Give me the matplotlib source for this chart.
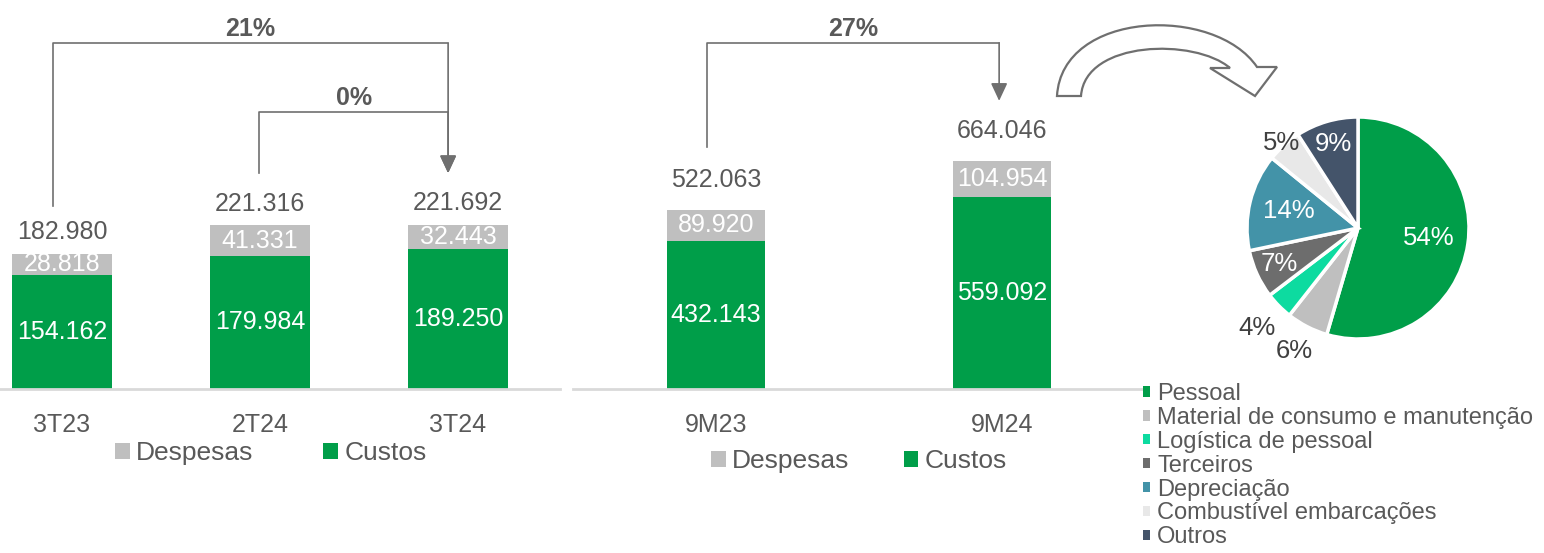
import numpy as np
import matplotlib.pyplot as plt
from matplotlib.path import Path
from matplotlib.patches import PathPatch, Patch

plt.rcParams["font.family"] = ["Liberation Sans", "DejaVu Sans"]

# quarterly (R$ mil)
tri_labels = ["3T23", "2T24", "3T24"]
tri_custos = [154.162, 179.984, 189.250]
tri_despesas = [28.818, 41.331, 32.443]
tri_total = [182.980, 221.316, 221.692]
tri_var = ["21%", "0%"]

# accumulated 9 months
acc_labels = ["9M23", "9M24"]
acc_custos = [432.143, 559.092]
acc_despesas = [89.920, 104.954]
acc_total = [522.063, 664.046]
acc_var = ["27%"]

# breakdown 9M24
pie_labels = [
    "Pessoal",
    "Material de consumo e manutenção",
    "Logística de pessoal",
    "Terceiros",
    "Depreciação",
    "Combustível embarcações",
    "Outros",
]
pie_values = [54, 6, 4, 7, 14, 5, 9]
pie_colors = ["#009E49", "#BFBFBF", "#0DDBA0", "#6D6D6D", "#4393A8", "#E8E8E8", "#44546A"]

GREEN = "#009E49"
GRAY = "#BFBFBF"
TXT = "#595959"
LINE = "#6F6F6F"
FS = 18

W, H = 1544, 553
fig = plt.figure(figsize=(W / 100, H / 100), dpi=100)


def px_axes(x0, y0, x1, y1):
    return fig.add_axes([x0 / W, 1 - y1 / H, (x1 - x0) / W, (y1 - y0) / H])


# overlay in pixel coords, only for the decorative curved arrow
ov = px_axes(0, 0, W, H)
ov.set_xlim(0, W)
ov.set_ylim(H, 0)
ov.axis("off")
verts = [
    (1057, 96), (1062, 10), (1215, 5), (1257, 67),
    (1277, 67), (1255, 96), (1210, 68), (1230, 68),
    (1195, 38), (1085, 40), (1081, 96), (1057, 96),
]
codes = [Path.MOVETO, Path.CURVE4, Path.CURVE4, Path.CURVE4,
         Path.LINETO, Path.LINETO, Path.LINETO, Path.LINETO,
         Path.CURVE4, Path.CURVE4, Path.CURVE4, Path.CLOSEPOLY]
ov.add_patch(PathPatch(Path(verts, codes), facecolor="white", edgecolor=LINE, lw=1.6))


def bar_panel(ax, labels, custos, despesas, total, width, top_off):
    x = np.arange(len(labels))
    bc = ax.bar(x, custos, width, color=GREEN, zorder=2)
    bd = ax.bar(x, despesas, width, bottom=custos, color=GRAY, zorder=2)
    for i in range(len(labels)):
        ax.text(x[i], custos[i] / 2, f"{custos[i]:.3f}", ha="center", va="center",
                color="white", fontsize=FS, zorder=3)
        ax.text(x[i], custos[i] + despesas[i] / 2, f"{despesas[i]:.3f}", ha="center",
                va="center", color="white", fontsize=FS, zorder=3)
        ax.text(x[i], total[i] + top_off, f"{total[i]:.3f}", ha="center", va="bottom",
                color=TXT, fontsize=FS)
    ax.set_xticks(x)
    ax.set_xticklabels(labels)
    ax.tick_params(axis="x", length=0, labelsize=FS, labelcolor=TXT, pad=17)
    ax.set_yticks([])
    for s in ["left", "right", "top"]:
        ax.spines[s].set_visible(False)
    ax.spines["bottom"].set_color("#D9D9D9")
    ax.spines["bottom"].set_linewidth(2)
    ax.patch.set_visible(False)
    return bc, bd


def bracket(ax, x0, y0, x1, y1, ytop, text, text_off):
    ax.plot([x0, x0, x1], [y0, ytop, ytop], color=LINE, lw=1.2, clip_on=False)
    ax.annotate("", xy=(x1, y1), xytext=(x1, ytop),
                arrowprops=dict(arrowstyle="-|>,head_length=0.9,head_width=0.42",
                                mutation_scale=12, color=LINE, lw=1.2,
                                shrinkA=0, shrinkB=0), annotation_clip=False)
    ax.text((x0 + x1) / 2, ytop + text_off, text, ha="center", va="bottom",
            color=TXT, fontsize=FS, fontweight="bold")


# left panel: quarters
ax1 = px_axes(0, 0, 560, 389)
ax1.set_xlim(-0.313, 2.515)
ax1.set_ylim(0, 389 / 0.74)
bc1, bd1 = bar_panel(ax1, tri_labels, tri_custos, tri_despesas, tri_total, 0.505, 13)
xr = 2 - 0.05
bracket(ax1, -0.045, tri_total[0] + 64, xr, tri_total[2] + 70, 467, tri_var[0], 3)
bracket(ax1, 1 - 0.005, tri_total[1] + 70, xr, tri_total[2] + 70, 374, tri_var[1], 3)
fig.legend([bd1, bc1], ["Despesas", "Custos"], ncol=2, loc="center left",
           bbox_to_anchor=(115 / W, 1 - 453 / H), frameon=False, fontsize=19,
           handlelength=0.55, handleheight=0.55, handletextpad=0.25,
           columnspacing=2.65, labelcolor=TXT, borderpad=0, borderaxespad=0)

# right panel: 9 months
ax2 = px_axes(573, 0, 1145, 389)
ax2.set_xlim(-0.5, 1.5)
ax2.set_ylim(0, 389 / 0.343)
bc2, bd2 = bar_panel(ax2, acc_labels, acc_custos, acc_despesas, acc_total, 0.34, 52)
bracket(ax2, -0.03, acc_total[0] + 183, 1 - 0.01, acc_total[1] + 176, 1009, acc_var[0], 6)
fig.legend([bd2, bc2], ["Despesas", "Custos"], ncol=2, loc="center left",
           bbox_to_anchor=(711 / W, 1 - 461 / H), frameon=False, fontsize=19,
           handlelength=0.55, handleheight=0.55, handletextpad=0.25,
           columnspacing=2.05, labelcolor=TXT, borderpad=0, borderaxespad=0)

# pie
axp = px_axes(1247, 117, 1469, 339)
wedges, _ = axp.pie(pie_values, colors=pie_colors, startangle=90, counterclock=False,
                    radius=1, wedgeprops=dict(edgecolor="white", linewidth=2.5))
axp.set_xlim(-1, 1)
axp.set_ylim(-1, 1)
label_r = [0.64, 1.25, 1.28, 0.78, 0.64, 1.03, 0.79]
inside = [True, False, False, True, True, False, True]
for w, v, r, ins in zip(wedges, pie_values, label_r, inside):
    ang = np.deg2rad((w.theta1 + w.theta2) / 2)
    axp.text(r * np.cos(ang), r * np.sin(ang), f"{v}%", ha="center", va="center",
             fontsize=18.5, color="white" if ins else "#404040", clip_on=False)

handles = [Patch(facecolor=c) for c in pie_colors]
fig.legend(handles, pie_labels, loc="upper left", bbox_to_anchor=(1143 / W, 1 - 383 / H),
           frameon=False, fontsize=17, handlelength=0.3, handleheight=0.3,
           handletextpad=0.3, labelspacing=0.08, labelcolor=TXT,
           borderpad=0, borderaxespad=0)

fig.savefig("out.png", dpi=100)
